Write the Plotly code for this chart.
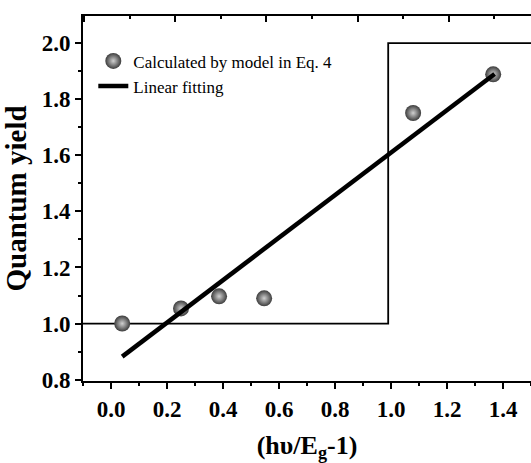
import plotly.graph_objects as go

# data
calc_x = [0.04, 0.25, 0.386, 0.547, 1.079, 1.365]
calc_y = [1.0, 1.054, 1.097, 1.090, 1.751, 1.889]
fit_x = [0.04, 1.37]
fit_y = [0.882, 1.89]
step_x = [-0.1, 0.99, 0.99, 1.5]
step_y = [1.0, 1.0, 2.0, 2.0]
x_ticks = [0.0, 0.2, 0.4, 0.6, 0.8, 1.0, 1.2, 1.4]
y_ticks = [0.8, 1.0, 1.2, 1.4, 1.6, 1.8, 2.0]

FONT = "Liberation Serif, Times New Roman, serif"

fig = go.Figure()
fig.add_trace(go.Scatter(x=step_x, y=step_y, mode="lines",
                         line=dict(color="black", width=1.8), showlegend=False,
                         hoverinfo="skip"))
fig.add_trace(go.Scatter(x=calc_x, y=calc_y, mode="markers",
                         name="Calculated by model in Eq. 4",
                         marker=dict(size=16, color="#3c3c3c",
                                     gradient=dict(type="radial", color="#d0d0d0"),
                                     line=dict(width=0))))
fig.add_trace(go.Scatter(x=fit_x, y=fit_y, mode="lines", name="Linear fitting",
                         line=dict(color="black", width=4.5)))
# top axis helper trace
fig.add_trace(go.Scatter(x=[None], y=[None], xaxis="x2", showlegend=False,
                         hoverinfo="skip"))

fig.update_layout(
    width=531, height=463,
    margin=dict(l=83, r=0, t=16, b=82, autoexpand=False),
    paper_bgcolor="white", plot_bgcolor="white",
    font=dict(family=FONT, color="black"),
    xaxis=dict(range=[-0.1, 1.5], tickvals=x_ticks, automargin=False,
               ticktext=[f"<b>{v:.1f}</b>" for v in x_ticks],
               showgrid=False, zeroline=False, showline=True, linecolor="black",
               linewidth=2, ticks="outside", ticklen=6, tickwidth=2, tickcolor="black",
               minor=dict(dtick=0.1, tick0=0, ticks="outside", ticklen=3, tickwidth=2,
                          tickcolor="black"),
               tickfont=dict(family=FONT, size=23, color="black"),
               title=dict(text="<b>(hυ/E<sub>g</sub>-1)</b>",
                          font=dict(family=FONT, size=26, color="black"), standoff=38)),
    xaxis2=dict(overlaying="x", side="top", range=[-0.03, 9.81], dtick=2, tick0=0,
                showticklabels=False, showgrid=False, zeroline=False, showline=True,
                automargin=False,
                linecolor="black", linewidth=2, ticks="inside", ticklen=6, tickwidth=2,
                tickcolor="black",
                minor=dict(dtick=1, tick0=0, ticks="inside", ticklen=3, tickwidth=2,
                           tickcolor="black")),
    yaxis=dict(range=[0.795, 2.097], tickvals=y_ticks, automargin=False,
               ticktext=[f"<b>{v:.1f}</b>" for v in y_ticks],
               showgrid=False, zeroline=False, showline=True, linecolor="black",
               linewidth=2, ticks="outside", ticklen=6, tickwidth=2, tickcolor="black",
               minor=dict(dtick=0.1, tick0=0, ticks="outside", ticklen=3, tickwidth=2,
                          tickcolor="black"),
               tickfont=dict(family=FONT, size=23, color="black"),
               title=dict(text="<b>Quantum yield</b>",
                          font=dict(family=FONT, size=29, color="black"), standoff=8)),
    legend=dict(x=0.023, y=0.925, xanchor="left", yanchor="top",
                bgcolor="rgba(0,0,0,0)", font=dict(family=FONT, size=17, color="black"),
                tracegroupgap=0, itemwidth=30),
)

fig.write_html("out.html")
